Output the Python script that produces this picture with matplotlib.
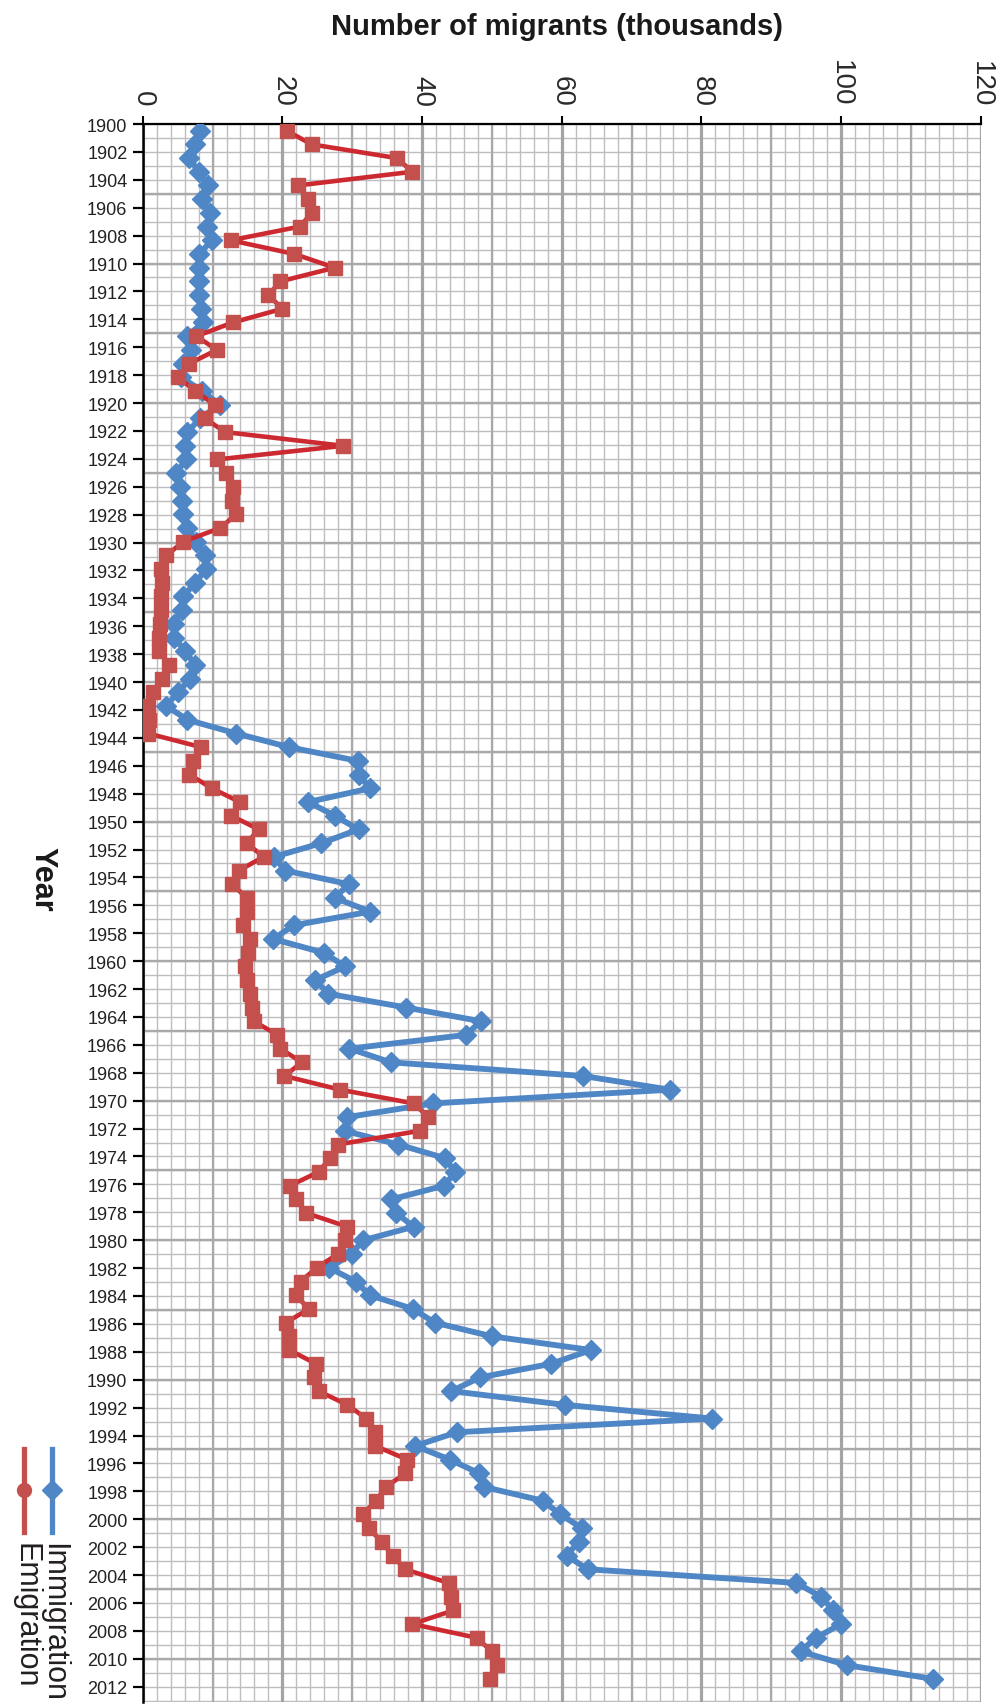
import matplotlib
matplotlib.use('Agg')
import matplotlib.pyplot as plt
from matplotlib.lines import Line2D
import numpy as np

plt.rcParams['font.family'] = ['Liberation Sans', 'DejaVu Sans']

# ---------------- data ----------------
years = list(range(1900, 2014))
immigration = [
    8.2, 7.5, 6.7, 8.0, 9.4, 8.5, 9.6, 9.2, 9.9, 8.1,
    8.0, 8.0, 8.1, 8.4, 8.7, 6.3, 6.9, 5.7, 5.5, 8.5,
    11.0, 8.2, 6.4, 6.1, 6.2, 4.8, 5.4, 5.6, 5.7, 6.4,
    7.7, 8.9, 9.1, 7.5, 5.8, 5.6, 4.5, 4.5, 6.1, 7.5,
    6.8, 5.0, 3.4, 6.4, 13.4, 21.0, 30.8, 30.9, 32.6, 23.7,
    27.5, 30.9, 25.6, 18.8, 20.4, 29.5, 27.5, 32.6, 21.6, 18.7,
    25.9, 29.0, 24.7, 26.6, 37.7, 48.4, 46.3, 29.6, 35.5, 63.1,
    75.5, 41.6, 29.3, 28.9, 36.6, 43.3, 44.7, 43.2, 35.6, 36.3,
    38.8, 31.5, 29.9, 26.7, 30.5, 32.5, 38.7, 41.8, 50.0, 64.2,
    58.5, 48.3, 44.2, 60.4, 81.5, 45.0, 39.0, 44.0, 48.2, 48.9,
    57.3, 59.8, 62.9, 62.4, 60.7, 63.7, 93.6, 97.1, 98.9, 100.0,
    96.4, 94.2, 100.8, 113.1,
]
emigration = [
    20.6, 24.2, 36.4, 38.6, 22.2, 23.7, 24.2, 22.5, 12.6, 21.7,
    27.5, 19.7, 18.0, 20.0, 12.9, 7.7, 10.6, 6.7, 5.1, 7.5,
    10.3, 8.9, 11.8, 28.7, 10.6, 11.9, 12.9, 12.8, 13.4, 11.1,
    5.8, 3.4, 2.6, 2.7, 2.6, 2.6, 2.5, 2.4, 2.4, 3.7,
    2.7, 1.5, 0.8, 0.9, 0.8, 8.4, 7.2, 6.7, 9.9, 13.9,
    12.7, 16.6, 14.9, 17.3, 13.8, 12.8, 14.9, 14.9, 14.3, 15.4,
    15.1, 14.7, 14.9, 15.4, 15.6, 15.9, 19.3, 19.7, 22.8, 20.3,
    28.3, 38.8, 40.9, 39.7, 27.9, 26.8, 25.2, 21.1, 22.0, 23.4,
    29.3, 29.0, 27.9, 24.9, 22.6, 21.9, 23.8, 20.5, 21.0, 21.0,
    24.8, 24.5, 25.2, 29.3, 32.0, 33.2, 33.3, 37.9, 37.6, 34.8,
    33.4, 31.5, 32.4, 34.2, 35.8, 37.5, 43.8, 44.2, 44.5, 38.6,
    47.8, 50.0, 50.7, 49.7,
]
year_ticks = list(range(1900, 2013, 2))
value_ticks = list(range(0, 121, 20))
series_names = ['Immigration', 'Emigration']

BLUE = '#4F86C6'
RED_LINE = '#CC2A30'
RED_MK = '#C4504E'

# ---------------- figure ----------------
fig = plt.figure(figsize=(10.01, 17.08), dpi=100)
ax = fig.add_axes([0.14256, 0.00293, 0.83726, 0.92388])
ax.set_xlim(0, 120)
ax.set_ylim(2013.1, 1900)

# grid
for v in np.arange(0, 121, 2):
    ax.axvline(v, color='#BEBEC0', lw=1.0, zorder=0)
for v in range(10, 121, 20):
    ax.axvline(v, color='#A9A9AB', lw=1.6, zorder=0.1)
for v in range(0, 121, 20):
    ax.axvline(v, color='#A4A4A6', lw=2.3, zorder=0.2)
for y in range(1900, 2014):
    ax.axhline(y, color='#BEBEC0', lw=1.0, zorder=0)
for y in range(1905, 2014, 5):
    ax.axhline(y, color='#A9A9AB', lw=1.7, zorder=0.1)

ax.xaxis.tick_top()
ax.set_xticks(value_ticks)
ax.set_xticklabels([str(v) for v in value_ticks])
ax.tick_params(axis='x', which='major', top=True, bottom=False, direction='out',
               length=6, width=1.5, pad=7, labelsize=20, labelcolor='#2a2a2a')
for lab in ax.get_xticklabels():
    lab.set_rotation(-90)
    lab.set_va('bottom')
    lab.set_ha('center')

ax.set_yticks(year_ticks)
ax.set_yticklabels([str(y) for y in year_ticks])
ax.tick_params(axis='y', which='major', direction='out', length=7, width=1.6,
               pad=4, labelsize=13, labelcolor='#222222')

for s in ['right', 'bottom']:
    ax.spines[s].set_visible(False)
ax.spines['left'].set_linewidth(1.8)
ax.spines['top'].set_linewidth(1.6)
ax.spines['left'].set_zorder(5)
ax.spines['top'].set_zorder(5)

# data axis (points drawn slightly compressed vs the year labels, as in the source)
ax2 = ax.twinx()
ax2.set_ylim(2014.69, 1899.513)
ax2.axis('off')

ax2.plot(immigration, years, color=BLUE, lw=4.2, marker='D', ms=10,
         mfc=BLUE, mec=BLUE, solid_joinstyle='round', zorder=2)
ax2.plot(emigration, years, color=RED_LINE, lw=3.3, marker='s', ms=10,
         mfc=RED_MK, mec=RED_MK, solid_joinstyle='round', zorder=3)

# titles
fig.text(0.556, 0.984, 'Number of migrants (thousands)', ha='center', va='center',
         fontsize=21, fontweight='bold', color='#1a1a1a')
fig.text(0.042, 0.4853, 'Year', rotation=-90, ha='center', va='center',
         fontsize=22, fontweight='bold', color='#1a1a1a')

# legend (manual, vertical)
for xf, col, mk, name in [(0.052, BLUE, 'D', series_names[0]),
                          (0.024, RED_MK, 'o', series_names[1])]:
    fig.add_artist(Line2D([xf, xf], [0.1025, 0.151], color=col, lw=3.8,
                          transform=fig.transFigure))
    fig.add_artist(Line2D([xf], [0.127], color=col, marker=mk, ms=10,
                          transform=fig.transFigure))
    fig.text(xf + 0.001, 0.0966, name, rotation=-90, ha='center', va='top',
             fontsize=22, color='#231f20')

fig.savefig('out.png', dpi=100)
